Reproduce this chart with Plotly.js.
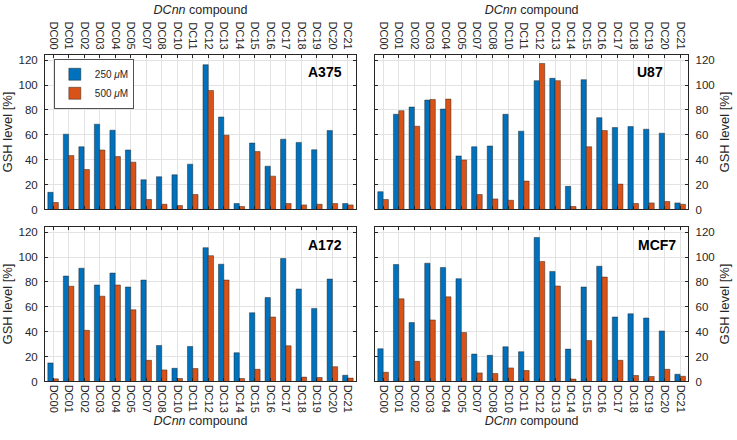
<!DOCTYPE html>
<html>
<head>
<meta charset="utf-8">
<script src="https://cdn.plot.ly/plotly-3.0.1.min.js"></script>
<style>html,body{margin:0;padding:0;background:#fff;}#chart{width:737px;height:440px;}</style>
</head>
<body>
<div id="chart"></div>
<script>
const compounds = ["DC00","DC01","DC02","DC03","DC04","DC05","DC07","DC08","DC10","DC11","DC12","DC13","DC14","DC15","DC16","DC17","DC18","DC19","DC20","DC21"];
const seriesNames = ["250 <i>μ</i>M", "500 <i>μ</i>M"];
const cellLines = ["A375", "U87", "A172", "MCF7"];

const a375_250 = [13.8,60.5,50.4,68.5,63.7,47.8,23.9,26.3,27.9,36.4,116.3,74.3,4.8,53.4,34.8,56.5,53.9,48.0,63.4,4.8];
const a375_500 = [5.6,43.3,32.1,47.8,42.5,38.0,8.0,4.2,3.2,12.0,95.6,59.7,2.4,46.5,26.8,4.8,3.7,4.2,4.8,3.7];
const u87_250  = [14.3,76.5,82.3,87.9,80.7,43.0,50.4,51.0,76.5,62.9,103.5,105.4,18.6,104.3,73.8,65.8,66.6,64.5,61.3,5.3];
const u87_500  = [8.0,79.4,66.9,88.4,88.7,39.8,12.0,8.5,7.4,22.8,117.3,103.5,2.4,50.4,63.4,20.4,4.8,5.3,6.4,4.2];
const a172_250 = [14.9,84.7,91.0,77.5,87.1,75.9,81.5,28.9,10.6,28.1,107.5,94.2,23.1,55.2,67.4,98.8,74.3,58.7,82.3,5.0];
const a172_500 = [2.1,76.5,41.1,68.5,77.5,57.6,17.0,9.3,2.4,10.4,101.1,81.5,2.4,9.8,51.8,28.7,3.5,3.2,11.9,2.7];
const mcf7_250 = [26.3,94.0,47.3,95.0,91.6,82.6,22.0,21.0,27.9,23.9,115.7,88.4,26.0,75.9,92.6,51.8,54.4,51.0,40.6,5.8];
const mcf7_500 = [7.4,66.4,16.2,49.4,68.0,39.3,6.9,6.4,10.9,8.8,96.4,76.7,1.9,32.9,83.9,17.0,4.8,4.0,9.8,4.2];

const panelData = [[a375_250,a375_500],[u87_250,u87_500],[a172_250,a172_500],[mcf7_250,mcf7_500]];
const colors = ["#0072BD", "#D95319"];
const font = "Liberation Sans, Arial, sans-serif";
const txt = "#262626";

const traces = [];
panelData.forEach((pair, i) => {
  const ax = i === 0 ? "" : String(i + 1);
  pair.forEach((vals, s) => {
    traces.push({
      type: "bar",
      x: compounds,
      y: vals,
      name: seriesNames[s],
      xaxis: "x" + ax,
      yaxis: "y" + ax,
      showlegend: i === 0,
      legendgroup: "s" + s,
      marker: {color: colors[s], line: {color: "rgba(30,30,30,0.75)", width: 0.6}},
      hoverinfo: "x+y"
    });
  });
});

const xDom = [[0.0611, 0.4830], [0.5088, 0.9339]];
const yDom = [[0.5239, 0.8761], [0.1330, 0.4852]];

function xAxis(col, row, anchor) {
  return {
    domain: xDom[col], anchor: anchor, type: "category",
    categoryorder: "array", categoryarray: compounds,
    range: [-0.52, 19.52],
    side: row === 0 ? "top" : "bottom",
    tickangle: 90,
    tickfont: {family: font, size: 11, color: txt},
    ticks: "inside", ticklen: 3, tickcolor: "#262626",
    showline: true, linecolor: "#262626", linewidth: 1, mirror: "allticks",
    showgrid: true, gridcolor: "#e3e3e3", gridwidth: 1,
    zeroline: false,
    title: {text: "<i>DCnn</i> compound", font: {family: font, size: 12.5, color: txt}, standoff: 4},
    fixedrange: true
  };
}
function yAxis(col, row, anchor) {
  return {
    domain: yDom[row], anchor: anchor,
    range: [0, 124.5],
    tickvals: [0,20,40,60,80,100,120],
    side: col === 0 ? "left" : "right",
    tickfont: {family: font, size: 11.5, color: txt},
    ticklabelstandoff: 4,
    ticks: "inside", ticklen: 3, tickcolor: "#262626",
    showline: true, linecolor: "#262626", linewidth: 1, mirror: "allticks",
    showgrid: true, gridcolor: "#e3e3e3", gridwidth: 1,
    zeroline: false,
    title: {text: "GSH level [%]", font: {family: font, size: 13, color: txt}, standoff: 6},
    fixedrange: true
  };
}

const layout = {
  width: 737, height: 440,
  margin: {l: 0, r: 0, t: 0, b: 0},
  paper_bgcolor: "#ffffff", plot_bgcolor: "#ffffff",
  barmode: "group", bargap: 0.32, bargroupgap: 0,
  font: {family: font, color: txt},
  xaxis: xAxis(0, 0, "y"), yaxis: yAxis(0, 0, "x"),
  xaxis2: xAxis(1, 0, "y2"), yaxis2: yAxis(1, 0, "x2"),
  xaxis3: xAxis(0, 1, "y3"), yaxis3: yAxis(0, 1, "x3"),
  xaxis4: xAxis(1, 1, "y4"), yaxis4: yAxis(1, 1, "x4"),
  legend: {
    x: 0.0733, y: 0.866, xanchor: "left", yanchor: "top",
    bgcolor: "#ffffff", bordercolor: "#262626", borderwidth: 0.8,
    font: {family: font, size: 10, color: txt},
    tracegroupgap: 0, itemwidth: 30
  },
  annotations: [
    {text: "<b>" + cellLines[0] + "</b>", xref: "paper", yref: "paper", x: 344/737, y: (440-72)/440, xanchor: "right", yanchor: "middle", showarrow: false, font: {family: font, size: 14, color: "#000"}},
    {text: "<b>" + cellLines[1] + "</b>", xref: "paper", yref: "paper", x: 665/737, y: (440-72)/440, xanchor: "right", yanchor: "middle", showarrow: false, font: {family: font, size: 14, color: "#000"}},
    {text: "<b>" + cellLines[2] + "</b>", xref: "paper", yref: "paper", x: 344/737, y: (440-245)/440, xanchor: "right", yanchor: "middle", showarrow: false, font: {family: font, size: 14, color: "#000"}},
    {text: "<b>" + cellLines[3] + "</b>", xref: "paper", yref: "paper", x: 678/737, y: (440-245)/440, xanchor: "right", yanchor: "middle", showarrow: false, font: {family: font, size: 14, color: "#000"}}
  ]
};

Plotly.newPlot("chart", traces, layout, {displayModeBar: false, staticPlot: true});
</script>
</body>
</html>
